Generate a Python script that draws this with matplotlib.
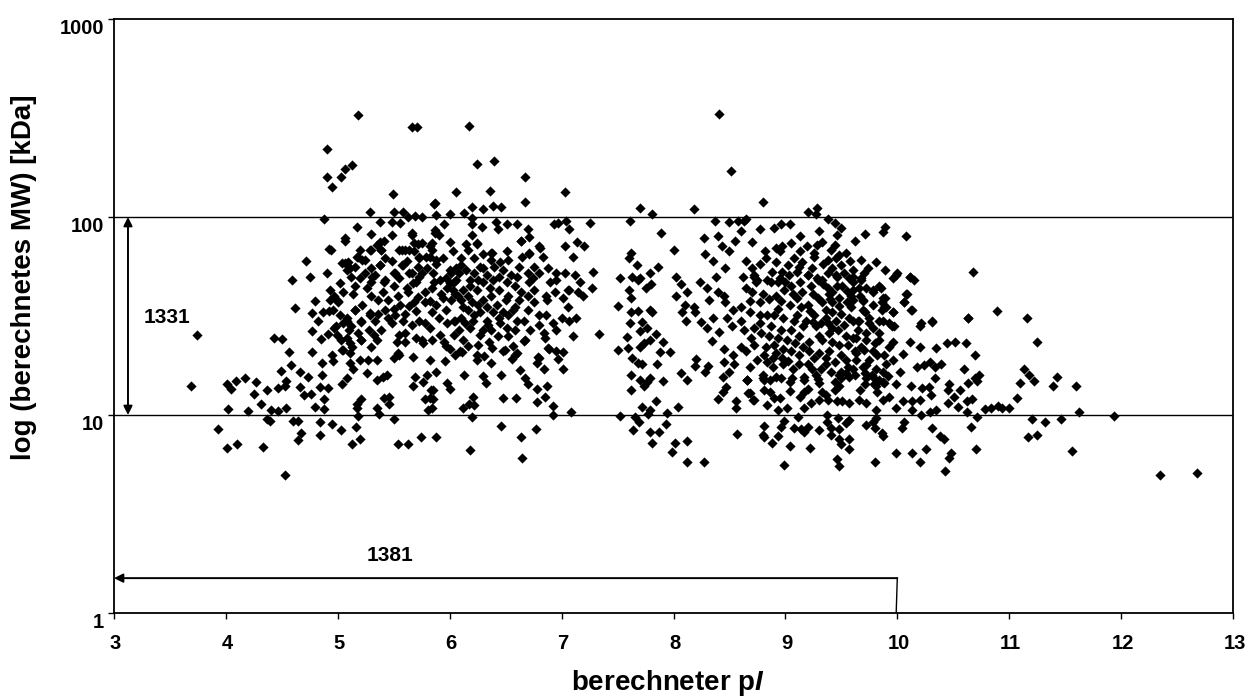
import matplotlib
matplotlib.use("Agg")
import matplotlib.pyplot as plt
from matplotlib.transforms import ScaledTranslation

plt.rcParams["font.family"] = ["Liberation Sans", "DejaVu Sans"]
plt.rcParams["mathtext.fontset"] = "custom"
plt.rcParams["mathtext.bf"] = "Liberation Sans:bold"
plt.rcParams["mathtext.bfit"] = "Liberation Sans:italic:bold"

# spots as (pI, MW in kDa)
spots_high = [(4.90,220),(4.90,160),(4.95,142),(5.03,160),(5.06,175),(5.13,183),(5.18,327),(5.66,285),(5.71,285),
    (5.49,131),(5.86,116),(5.29,106),(5.50,106),(5.58,106),(4.88,98),(5.69,101),(5.75,100),(5.63,100),(5.38,94),
    (5.48,94),(5.56,93),(5.17,89),(5.06,78),(5.30,82),(5.48,81),(5.41,76),(5.66,81),(4.92,69),(4.72,60),(4.75,50),
    (4.59,48),(4.90,52),(6.17,288),(6.24,185),(6.40,192),(6.67,159),(6.06,134),(6.36,135),(7.03,134),(5.87,118),
    (6.67,119),(6.20,112),(6.39,113),(6.46,112),(6.30,110),(6.00,103),(6.13,105),(5.88,102),(7.70,111),(7.81,103),
    (8.18,110),(7.61,95),(8.41,330),(8.51,171),(7.04,95),(7.25,93),(6.93,92),(6.97,93),(7.07,87),(7.89,83),(8.27,78),
    (8.00,68),(7.86,56),(5.04,58.6),(5.09,59),(5.08,54),(5.17,63),(5.22,61),(5.15,56),(5.29,68),(5.39,68),(5.38,57),
    (5.31,50),(5.42,48),(5.50,52),(5.58,57),(5.55,68),(5.60,68),(5.68,67),(5.75,74),(5.68,74),(5.66,83),(5.73,62),
    (5.79,63),(5.87,83),(5.84,74),(5.84,68),(5.88,61),(5.66,52),(5.75,52),(5.70,47),(5.85,52),(5.35,72)]

spots_acid_low = [(4.53,5.0),(4.01,6.8),(4.10,7.1),(4.33,6.9),(3.93,8.5),(5.13,7.1),(5.20,7.6),(5.54,7.1),(5.63,7.1),
    (5.74,7.7),(5.88,7.7),(4.64,7.5),(4.67,8.1),(4.84,7.9),(5.03,8.4),(5.16,8.7),(4.95,9.0),(4.84,9.2),(5.50,9.6),
    (4.39,9.3),(4.37,9.6),(4.60,9.3),(4.64,9.3),(5.18,9.9),(5.37,10.1),(4.02,10.7),(4.20,10.5),(4.40,10.6),(4.47,10.5),
    (4.54,10.9),(4.88,10.7),(4.80,11),(5.17,10.9),(5.35,10.9),(5.81,10.6),(4.31,11.4),(4.88,12),(5.17,11.4),(5.21,12.1),
    (5.46,11.4),(5.41,12.2),(5.46,12.3),(5.78,12),(5.82,12.2),(4.25,12.8),(4.70,12.6),(4.76,12.8),(5.83,13.4),(4.37,13.4),
    (4.05,13.5),(4.47,13.7),(4.53,14),(4.66,13.8),(4.84,13.9),(4.91,13.7),(5.04,14.3),(5.67,14),(3.69,14),(4.01,14.3),
    (4.09,14.8),(4.17,15.4),(4.27,14.7),(4.54,14.9),(5.08,15.4),(5.35,15),(5.44,16),(5.40,15.5),(5.69,15.6),(5.76,14.7),
    (5.80,16),(4.49,16.6),(4.66,16.4),(4.73,15.6),(4.86,16),(5.26,16.3),(5.14,17),(4.58,17.9),(4.86,18.3),(5.11,18.3),
    (4.96,18.8),(5.20,19),(5.27,19),(5.35,19),(5.50,19.5),(5.55,20),(5.67,19.6),(5.82,19),(4.56,20.7),(4.77,20.7),
    (5.04,21.3),(4.95,20),(5.11,20.5),(5.13,22),(4.43,24.5),(4.50,24.3),(3.74,25.3),(4.85,24.2),(4.77,26.5),(4.91,25.7),
    (4.99,25.3),(5.21,23.8),(5.53,23.4),(5.60,23.4),(5.08,24.5),(5.35,23.8),(4.62,34.7),(4.77,32.7),(4.87,33),(4.92,33.5),
    (4.80,37.6),(4.93,38),(5.00,37.5),(5.15,34),(5.08,31),(5.21,30),(5.29,32.7),(5.10,27),(5.18,26),(5.28,27),(4.98,28),
    (5.05,29),(4.82,30),(5.60,26),(5.75,24),(5.30,22)]

spots_acid_core = [(5.06,58.4),(5.11,55),(5.18,63),(5.24,60.7),(5.30,68),(5.39,68),(5.38,57),(5.33,51),(5.41,47),(5.51,52),
    (5.57,57),(5.64,52),(5.73,50),(5.67,46.5),(5.20,49),(5.26,44),(5.02,46.5),(5.15,45),(5.14,41),(4.97,40),(5.00,37),(4.93,43),
    (5.36,38),(5.45,38),(5.54,40),(5.63,42),(5.72,39.6),(5.78,37),(5.64,35.4),(5.70,33.4),(5.15,34),(5.29,32),(5.33,30),(5.21,29.6),
    (5.08,30),(4.97,27.4),(5.12,28.3),(5.45,30.8),(5.51,32),(5.48,29),(5.58,30),(5.66,28.6),(5.73,30),(5.39,27),(5.32,25.4),
    (5.55,25.4),(5.70,24.5),(5.76,23),(5.21,24),(5.03,24),(5.11,23),(5.05,21.3),(5.54,20.5),(5.82,27.4),(5.91,25.4),(5.97,22.3),
    (5.88,36),(5.94,39),(6.03,43),(5.91,48),(5.97,49),(6.04,47),(5.88,58),(5.94,62),(6.00,54),(6.06,55),(5.82,63),(5.73,63),
    (5.57,68),(5.64,68),(5.72,73),(5.82,71),(5.38,75),(5.06,76),(4.94,68),(6.05,30),(5.97,34),(5.82,37.5),
    (6.03,67),(6.15,73),(6.24,73),(6.37,66),(6.51,67),(6.64,76),(6.71,65),(6.65,63),(6.80,71),(6.83,63),(7.03,71),(7.10,63),
    (6.10,57),(6.15,54),(6.27,56),(6.37,61),(6.40,56),(6.52,61),(6.48,54),(6.55,51),(6.51,47),(6.39,48),(6.33,51),(6.70,52),
    (6.74,49),(6.80,52),(6.88,55),(6.71,47),(6.95,52),(7.03,52),(7.12,51),(6.95,48),(6.01,52),(6.00,46.5),(6.06,48),(6.18,48),
    (6.25,48),(6.30,47),(6.12,43),(6.16,40),(6.07,40),(6.01,38),(6.37,40),(6.30,38),(6.25,36),(6.52,40),(6.64,42),(6.70,40),
    (6.62,38),(6.58,35),(6.86,40),(6.94,42),(7.01,39),(7.07,43),(7.15,42),(6.16,34),(6.27,33),(6.39,33),(6.48,33),(6.57,34),
    (6.70,34),(6.80,32),(6.86,32),(7.06,35),(7.00,31),(6.92,29),(7.07,30),(7.13,31),(6.80,28.5),(6.95,27),(6.04,30),(6.10,31),
    (6.21,30),(6.33,30),(6.45,29),(6.60,30),(6.51,27.5),(6.37,27),(6.30,27),(6.18,27.5),(6.04,25.5),(6.27,25.5),(6.43,25),
    (6.67,24),(6.85,24.5),(7.10,25),(6.16,22.3),(6.09,21),(6.49,21.3),(6.57,22.3),(6.88,21.8),(6.95,21),(6.24,20),(6.58,20),(6.79,19.7)]

spots_acid_fill = [(6.10,38),(6.20,37),(6.12,35),(6.33,35),(6.42,36),(6.50,38),(6.44,43),(6.36,44),(6.24,43),(6.05,41),(6.18,45),
    (6.08,52),(6.22,52),(6.30,55),(6.44,50),(6.58,45),(6.52,32),(6.44,31),(6.34,28.5),(6.22,32),(6.14,29),(6.08,27),(5.98,29),(5.90,31),
    (5.84,33),(5.92,41),(5.84,44),(5.78,42),(5.86,47),(5.80,55),(5.98,44),(5.68,37),(5.56,36),(5.50,34.5),(5.42,34),(5.36,32.5),(5.60,32.5),
    (5.78,29),(5.84,24),(5.95,23.5),(6.00,21.5),(6.12,24),(6.25,22.5),(6.35,23.5),(6.52,25),(5.62,44),(5.50,45),(5.40,42),(5.30,40),(5.22,36),
    (5.30,47),(5.24,52),(5.12,50),(5.05,42),(4.96,34),(5.02,32),(5.55,49),(5.48,60),(5.62,60),(5.72,56),(5.30,55),(5.42,62),(5.20,68),(6.10,62),
    (6.22,62),(6.30,65),(6.45,59),(6.62,56),(6.60,50),(6.75,56),(6.90,47),(6.75,43),(6.66,30),(6.75,37),(6.72,27),(6.58,27)]

spots_acid_right = [(6.18,6.67),(6.65,6.07),(6.64,7.7),(6.46,8.8),(6.77,8.5),(6.20,9.8),(6.12,10.9),(6.22,11.2),
    (6.17,11.4),(6.21,12.3),(6.48,12.2),(6.59,12.2),(6.78,11.6),(6.85,12.3),(6.92,11.1),(6.92,10),(7.08,10.3),(6.87,14),
    (6.78,13.6),(6.70,14.3),(6.67,15.4),(6.63,16.9),(6.32,14.5),(6.30,15.8),(6.46,16),(6.13,16),(5.98,14.5),(6.00,13.5),
    (5.88,16.5),(5.85,13.4),(5.85,12),(5.84,10.9),(7.01,17),(6.84,17),(6.78,18.3),(6.80,19.4),(6.97,19.2),(7.01,20.7),
    (6.89,21.5),(6.56,19.2),(6.37,18.3),(5.96,18.8),(6.48,21),(6.60,20.5),(6.11,20.7),(6.05,20),(6.24,19),
    (6.31,19.8),(6.38,21.8),(6.66,23.6),(6.84,26),(7.33,25.6),(7.28,53),(7.27,44),(7.19,40),
    (7.06,43),(7.16,47),(6.87,38),(6.81,70),(6.71,66),(7.14,75),(7.20,71),(6.64,76),(6.71,79),
    (6.70,87),(6.51,92),(6.60,92),(6.41,94),(6.43,87),(6.29,89),(6.20,92),(6.20,99),(5.95,92),(6.24,74),(6.16,68),(6.20,81),
    (6.38,66),(5.87,86),(5.90,81),(6.00,75)]

spots_gap = [(7.50,21.3),(7.58,24.7),(7.50,35.5),(7.61,29),(7.59,21.7),(7.63,19.5),(7.68,18.3),(7.72,18),(7.62,16),(7.85,18),
    (7.70,22),(7.74,23),(7.88,20.7),(7.97,20.7),(7.91,23.4),(7.84,25.6),(7.70,26.6),(7.76,27.6),(7.79,24),(7.62,33),(7.68,33.4),
    (7.79,34),(7.81,33),(7.72,29.5),(7.70,15),(7.76,14.7),(7.79,15.4),(7.74,14),(7.91,14.8),(7.62,13.4),(7.84,11.8),(7.72,11),
    (7.79,10.6),(7.77,10.1),(7.94,10.2),(8.04,11),(7.52,9.9),(7.66,9.8),(7.69,9.2),(7.93,9),(7.64,8.4),(7.79,8.2),(7.87,8.2),
    (7.81,7.2),(8.12,7.4),(8.01,7.2),(7.99,6.5),(8.12,5.8),(8.27,5.8),(8.57,8),(8.56,10.9),(8.56,11.8),(8.40,12),(8.44,13),
    (8.47,13.9),(8.67,12.9),(8.72,11.9),(8.66,15),(8.44,15.6),(8.50,16.5),(8.12,15),(8.07,16.3),(8.28,16.5),(8.31,17.7),
    (8.19,17.7),(8.20,19.2),(8.45,18.5),(8.54,18),(8.45,21.5),(8.53,20),(8.34,23.6),(8.41,26.2),(8.30,27.5),(8.25,29.5),
    (8.52,28),(8.35,31),(8.11,30),(8.08,33),(8.19,33),(8.10,36),(8.18,35),(8.02,40),(7.60,43),(7.52,49),(7.63,50),(7.68,48),
    (7.75,44),(7.62,39),(7.80,46),(7.60,62),(7.62,66),(7.67,57),(7.70,49),(7.79,52),(8.02,50),(8.07,46),(8.12,42),(8.32,38),
    (8.30,44),(8.24,47),(8.38,50),(8.40,42),(8.46,37),(8.35,60),(8.46,55),(8.50,67),(8.43,71),(8.37,95),(8.50,94),(8.58,96),
    (8.63,95),(8.55,76),(8.40,80),(8.28,65),(8.45,40),(8.53,34),(8.48,31)]

spots_basic_top = [(8.80,119),(9.20,106),(9.28,111),(9.27,103),(8.65,98),(9.38,98),(9.44,93),(9.50,88),(8.77,87),(8.90,88),
    (8.96,92),(9.04,92),(8.60,85),(9.13,80),(9.30,85),(9.46,81),(9.62,76),(9.71,82),(9.89,89),(9.87,84),(10.08,80),(8.70,75),
    (9.05,74),(8.97,71),(8.92,70),(8.95,67),(9.19,71),(9.33,75),(9.28,72),(9.26,66),(9.44,72),(9.41,68),(9.54,66),(9.48,64),
    (8.82,67),(8.83,62),(8.77,58),(9.13,67),(9.08,62),(9.15,59),(9.26,63),(9.38,61),(9.68,61),(9.81,59),(9.74,55),(9.89,54),
    (10.00,52),(9.96,49),(10.11,50),(10.15,48),(10.68,53),(8.62,50),(8.72,50),(8.74,47),(9.50,57),(9.42,55),(9.38,52),(9.60,54),
    (9.57,49),(9.68,48),(8.88,53),(8.97,53),(9.03,51),(9.10,53),(9.20,51),(9.28,49),(9.33,48),(9.46,50),(9.46,45),(8.84,48),
    (8.93,47),(9.85,44),(9.78,42),(10.09,41),(9.89,39),(9.86,37),(10.06,37),(9.90,35),(9.86,34),(9.96,33),(10.13,34),(10.89,33.5),
    (10.63,31),(10.31,29.5),(10.20,28),(9.95,28),(9.87,30)]

spots_basic_core = [(8.72,51),(8.87,47),(8.95,49),(9.05,45),(8.99,43),(9.20,51),(9.29,48),(9.45,51),(9.60,50),(9.70,52),(8.65,44),
    (8.75,48),(9.23,45),(9.38,44),(9.51,45),(9.66,44),(8.80,41),(8.77,37),(8.68,37.5),(8.60,35),(8.68,33),(9.10,39),(9.20,36),
    (9.29,39),(9.39,41),(9.48,39),(9.59,40),(9.69,38),(9.04,36),(8.93,34.5),(8.77,32),(8.84,32),(8.90,32),(8.98,31),(9.10,32),
    (9.26,32),(9.36,34),(9.48,35.5),(9.59,35),(9.69,34),(9.18,30),(9.27,28),(9.38,29),(9.45,30),(9.57,31),(9.65,30),(8.60,30),
    (8.63,27),(8.77,29),(8.87,28),(8.96,27),(9.05,27),(9.12,25),(9.21,23.5),(9.30,25),(9.39,26),(9.47,27),(9.54,25),(9.63,24.5),
    (9.72,26),(8.69,24.5),(8.60,22),(8.65,21),(8.83,22),(8.90,22.5),(8.98,21.5),(8.81,20),(8.89,19.5),(9.05,21),(9.12,20),(9.21,21),
    (9.30,20.5),(9.39,21),(9.48,22.5),(9.44,18.5),(9.54,19),(9.63,20.5),(9.70,21.3),(8.68,17.5),(8.80,16),(8.89,17.5),(8.98,18),
    (9.07,17),(9.20,18),(9.27,16),(9.36,18),(9.48,16),(9.60,17),(9.69,17.5),(8.66,15),(8.81,15),(8.92,15.5),(9.04,14.7),(9.17,15.5),
    (9.30,14.5),(9.99,51),(10.11,50),(9.68,49),(9.60,47),(9.78,43),(9.84,45),(9.60,43),(9.67,40),(9.60,38),(9.69,37.5),(9.87,39),
    (10.08,41),(10.06,37),(9.88,35),(9.96,33),(10.12,34),(9.71,33),(9.66,30),(9.75,31),(9.78,27.5),(9.60,30),(9.93,29),(10.21,29),
    (10.31,30),(10.63,31),(9.84,30),(9.97,28),(9.60,24.5),(9.72,24),(9.84,24),(9.96,23.5),(9.93,22),(9.78,21),(10.11,23.5),(10.20,22),
    (10.35,21.7),(10.44,23),(10.52,23.3),(10.61,23),(10.69,20),(9.62,21),(9.75,19),(9.82,20),(9.63,19),(10.18,17.5),(10.29,18.5),
    (10.24,17.8),(10.34,17.5),(10.39,18),(10.60,17),(9.81,17),(9.87,16.5),(10.02,16.5),(9.72,15.3),(9.79,15.3),(9.62,16),(9.71,14.3),
    (9.79,14.3),(9.87,14.7),(9.99,14.3),(10.12,14),(10.34,15.3),(10.46,14.3),(10.69,15.3),(10.63,14.5)]

spots_basic_fill = [(9.25,41),(9.33,37),(9.42,37),(9.36,31),(9.42,33),(9.32,29),(9.42,27.5),(9.52,28.5),(9.50,32.5),(9.55,37),(9.42,42),
    (9.34,46),(9.25,29.5),(9.22,33.5),(9.14,35),(9.16,28),(9.08,30),(9.33,24),(9.42,23.5),(9.50,20),(9.36,19.3),(9.26,19.5),(9.16,22),(9.09,23),
    (9.01,24),(8.93,24.5),(8.85,25),(8.78,26),(8.72,27.5),(8.92,20.5),(8.97,19.5),(8.84,18.5),(8.75,19),(8.72,22.5),(9.02,18.8),(9.12,18),
    (9.24,17),(9.32,17),(9.41,16.5),(9.56,17.5),(9.40,38.5),(9.55,42.5),(9.15,42),(9.07,41),(8.92,40),(8.85,38.5),(8.96,37.5),(8.70,42),(9.00,47),
    (9.13,47),(9.24,55),(9.12,56),(9.02,57),(8.92,59),(8.70,55),(8.65,60),(9.34,58),(9.52,52),(9.45,62),(9.58,60),(9.72,44),(9.78,36),(9.75,29),
    (9.84,26),(9.65,27),(9.68,22),(9.56,22.5),(9.80,23),(9.88,20),(9.72,17.8),(9.90,18.2),(9.96,19),(10.05,20.3),(9.92,15.8)]

spots_basic_low = [(10.73,16),(10.71,14.8),(10.45,13.4),(10.56,13.4),(10.28,13.8),(10.22,13.7),(10.30,12.6),(10.51,12.3),
    (10.45,11.5),(10.54,11),(10.62,11.8),(10.67,12.1),(10.62,10.4),(10.78,10.7),(10.84,10.9),(10.90,11.1),(10.35,10.6),(10.29,10.4),
    (10.21,10),(10.71,9.8),(10.66,8.7),(10.31,8.6),(10.38,7.8),(10.42,7.6),(10.70,6.7),(10.26,6.7),(9.99,6.4),(10.13,6.4),(10.20,5.8),
    (10.48,6.4),(10.46,6.1),(10.43,5.2),(9.80,5.8),(9.46,6),(9.48,5.5),(8.99,5.6),(9.22,6.8),(9.57,6.7),(9.04,7),(8.88,7.2),(8.81,7.7),
    (8.93,7.8),(8.80,7.9),(8.81,8.8),(8.96,8.7),(8.99,9.3),(9.11,9.8),(9.08,8.6),(9.14,8.5),(9.20,8.7),(9.17,8.2),(9.30,8.4),(9.41,8.6),
    (9.48,8.5),(9.41,7.9),(9.48,7.6),(9.50,7.1),(9.57,7.6),(9.54,9.1),(9.57,9.4),(9.47,9.7),(9.37,10),(9.37,9.2),(9.72,8.9),(9.78,9.2),
    (9.81,9.7),(9.80,8.6),(9.86,8.1),(9.87,7.8),(10.06,9.2),(10.04,8.6),(8.93,10.6),(9.01,10.9),(9.17,10.9),(9.23,11.5),(9.30,11.9),
    (9.38,11.9),(9.46,11.8),(9.51,11.8),(9.57,11.5),(9.66,11.9),(9.72,11.5),(9.81,10.6),(9.87,11.9),(9.93,12.3),(9.99,10.9),(10.05,11.7),
    (10.13,11.7),(10.20,11.9),(10.13,10.6),(8.84,11.2),(8.90,12.2),(8.95,12.2),(8.86,13),(8.81,13.4),(8.68,12.9),(8.71,11.9),(9.04,13.2),
    (9.17,13),(9.13,12.4),(9.20,13.6),(9.33,13),(9.36,12.6),(9.67,13.4),(9.82,13),(8.66,15),(8.80,15.4),(8.86,15),(8.96,15.4),(9.06,15.4),
    (9.17,15),(9.29,15.2),(9.44,14.7),(9.50,15.4),(9.57,15.6),(9.71,16.3),(9.77,16),(9.84,15),(9.88,14.5),(9.81,14),(9.48,14),(9.44,13.4),
    (9.54,16.3),(9.50,16.5)]

spots_far_right = [(11.16,31),(11.25,23.5),(11.13,17),(11.18,16),(11.43,15.5),(11.39,14),(11.60,14),(11.22,14.8),(11.07,12.2),(11.20,9.6),
    (11.32,9.2),(11.62,10.4),(11.94,9.9),(11.56,6.6),(12.35,5.0),(12.68,5.1),(10.94,10.9),(11.00,10.9),(11.17,7.7),(11.25,7.9),(11.46,9.6),
    (11.10,14.5)]

x_ticks = [3, 4, 5, 6, 7, 8, 9, 10, 11, 12, 13]
y_ticks = [1, 10, 100, 1000]
y_tick_labels = ["1", "10", "100", "1000"]


def main():
    fig = plt.figure(figsize=(12.55, 6.97), dpi=100)
    ax = fig.add_axes([114 / 1255, 84 / 697, 1119 / 1255, 594 / 697])

    spots = (spots_high + spots_acid_low + spots_acid_core + spots_acid_fill + spots_acid_right + spots_gap
             + spots_basic_top + spots_basic_core + spots_basic_fill + spots_basic_low + spots_far_right)
    pi_values = [s[0] for s in spots]
    mw_values = [s[1] for s in spots]

    ax.set_yscale("log")
    ax.set_xlim(3, 13)
    ax.set_ylim(1, 1000)
    ax.scatter(pi_values, mw_values, marker="D", s=27, color="black", linewidths=0, zorder=3, clip_on=False)

    for level in (10, 100):
        ax.axhline(level, color="black", lw=1.0, zorder=1)

    ax.set_xticks(x_ticks)
    ax.set_xticklabels([str(t) for t in x_ticks], fontsize=14.5, fontweight="bold")
    ax.set_yticks(y_ticks)
    ax.set_yticklabels(y_tick_labels, fontsize=14.5, fontweight="bold")
    ax.minorticks_off()
    ax.tick_params(axis="both", length=4, width=1.0, color="black")
    ax.tick_params(axis="x", pad=11)
    ax.tick_params(axis="y", pad=3)
    for spine in ax.spines.values():
        spine.set_linewidth(1.3)

    # labels sit a little below and right of their ticks in the original
    shift_y = ScaledTranslation(0, -8 / 100, fig.dpi_scale_trans)
    for lbl in ax.get_yticklabels():
        lbl.set_transform(lbl.get_transform() + shift_y)
    shift_x = ScaledTranslation(1.5 / 100, 0, fig.dpi_scale_trans)
    for lbl in ax.get_xticklabels():
        lbl.set_transform(lbl.get_transform() + shift_x)

    fig.text(668 / 1255, 1 - 683 / 697, r"berechneter p$\mathbfit{I}$", fontsize=20, fontweight="bold",
             ha="center", va="center")
    fig.text(24 / 1255, 1 - 277 / 697, "log (berechnetes MW) [kDa]", fontsize=20, fontweight="bold",
             ha="center", va="center", rotation=90)

    # range markers for the two counts
    ax.annotate("", xy=(3.125, 100), xytext=(3.125, 10),
                arrowprops=dict(arrowstyle="<|-|>", color="black", lw=1.4, shrinkA=0, shrinkB=0, mutation_scale=13))
    ax.text(3.47, 31, "1331", fontsize=15, fontweight="bold", ha="center", va="center")
    ax.annotate("", xy=(3.0, 1.5), xytext=(10.0, 1.5),
                arrowprops=dict(arrowstyle="-|>", color="black", lw=1.4, shrinkA=0, shrinkB=0, mutation_scale=13))
    ax.plot([10.0, 9.99], [1.5, 1.0], color="black", lw=1.0)
    ax.text(5.47, 1.96, "1381", fontsize=15, fontweight="bold", ha="center", va="center")

    fig.savefig("out.png", dpi=100)


if __name__ == "__main__":
    main()
